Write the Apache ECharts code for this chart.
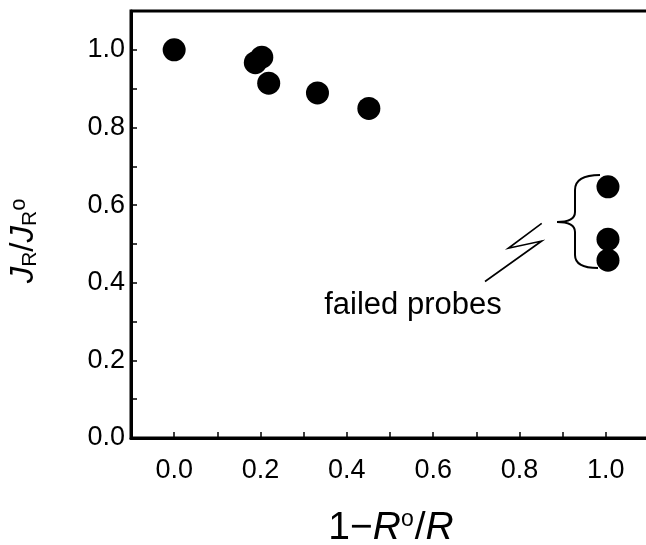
<!DOCTYPE html>
<html><head><meta charset="utf-8">
<script src="https://cdn.jsdelivr.net/npm/echarts@6/dist/echarts.min.js"></script>
<style>html,body{margin:0;padding:0;background:#fff}#c{width:646px;height:545px}</style>
</head><body><div id="c"></div>
<script>
// ---- data ----
const xTickLabels = ['0.0', '0.2', '0.4', '0.6', '0.8', '1.0'];
const yTickLabels = ['0.0', '0.2', '0.4', '0.6', '0.8', '1.0'];
const probeX = [0.0, 0.188, 0.203, 0.219, 0.332, 0.451];
const probeY = [1.0, 0.967, 0.981, 0.914, 0.889, 0.849];
const failedX = [1.005, 1.005, 1.005];
const failedY = [0.647, 0.512, 0.458];
const annotationText = 'failed probes';

const FONT = '"Liberation Sans", Arial, sans-serif';
const chart = echarts.init(document.getElementById('c'), null, {renderer: 'canvas'});

function fmt(list) {
  return function (v) {
    const s = (Math.abs(v) < 1e-9 ? 0 : v).toFixed(1);
    return list.includes(s) ? s : '';
  };
}
function pairs(xs, ys) { return xs.map((x, i) => [x, ys[i]]); }

const axisCommon = {
  axisLine: {show: true, onZero: false, lineStyle: {color: '#000', width: 3}},
  axisTick: {show: true, inside: true, length: 6, lineStyle: {color: '#000', width: 1.5}},
  splitLine: {show: false},
};
const braceStyle = {fill: null, stroke: '#000', lineWidth: 2};
function q(x1, y1, cx, cy, x2, y2) {
  return {type: 'bezierCurve', shape: {x1: x1, y1: y1, cpx1: cx, cpy1: cy, x2: x2, y2: y2}, style: braceStyle};
}
function ln(x1, y1, x2, y2) {
  return {type: 'line', shape: {x1: x1, y1: y1, x2: x2, y2: y2}, style: braceStyle};
}

chart.setOption({
  animation: false,
  backgroundColor: '#fff',
  grid: {left: 131, right: -3, top: 11, bottom: 107, outerBoundsMode: 'none', containLabel: false,
         show: true, borderColor: '#000', borderWidth: 3, backgroundColor: 'transparent'},
  xAxis: Object.assign({
    type: 'value', min: -0.1, max: 1.1, interval: 0.1,
    axisLabel: {formatter: fmt(xTickLabels), color: '#000', fontSize: 27, fontFamily: FONT, margin: 19}
  }, axisCommon),
  yAxis: Object.assign({
    type: 'value', min: 0, max: 1.1, interval: 0.1,
    axisLabel: {formatter: fmt(yTickLabels), color: '#000', fontSize: 27, fontFamily: FONT, margin: 6, padding: [10, 0, 0, 0]}
  }, axisCommon),
  series: [
    {type: 'scatter', data: pairs(probeX, probeY), symbol: 'circle', symbolSize: 23, itemStyle: {color: '#000', opacity: 1}, z: 5},
    {type: 'scatter', data: pairs(failedX, failedY), symbol: 'circle', symbolSize: 23, itemStyle: {color: '#000', opacity: 1}, z: 5}
  ],
  graphic: [
    q(600, 175, 575, 175, 575, 190),
    ln(575, 190, 575, 212),
    q(575, 212, 575, 222, 557, 222),
    q(557, 222, 575, 222, 575, 232),
    ln(575, 232, 575, 255),
    q(575, 255, 575, 268, 598, 268),
    {type: 'polyline', shape: {points: [[541.7, 223.3], [508.3, 248.3], [541.7, 241], [485, 281.5]]},
     style: {fill: null, stroke: '#000', lineWidth: 1.6}},
    {type: 'text', x: 413, y: 305, style: {text: annotationText, font: '31px ' + FONT, fill: '#000', align: 'center', verticalAlign: 'middle'}},
    {type: 'text', x: 391, y: 528, style: {
      text: '{n|1−}{i|R}{s|o}{n|/}{i|R}', align: 'center', verticalAlign: 'middle',
      rich: {
        n: {fontSize: 39, fontFamily: FONT, color: '#000'},
        i: {fontSize: 39, fontFamily: FONT, fontStyle: 'italic', color: '#000'},
        s: {fontSize: 23, fontFamily: FONT, color: '#000', verticalAlign: 'top', padding: [0, 1, 0, 0]}
      }}},
    {type: 'text', x: 24, y: 241, rotation: Math.PI / 2, style: {
      text: '{i|J}{b|R}{n|/}{i|J}{b|R}{s|o}', align: 'center', verticalAlign: 'middle',
      rich: {
        n: {fontSize: 33, fontFamily: FONT, color: '#000'},
        i: {fontSize: 33, fontFamily: FONT, fontStyle: 'italic', color: '#000'},
        b: {fontSize: 21, fontFamily: FONT, color: '#000', verticalAlign: 'bottom'},
        s: {fontSize: 22, fontFamily: FONT, color: '#000', verticalAlign: 'top'}
      }}}
  ]
});
</script>
</body></html>
